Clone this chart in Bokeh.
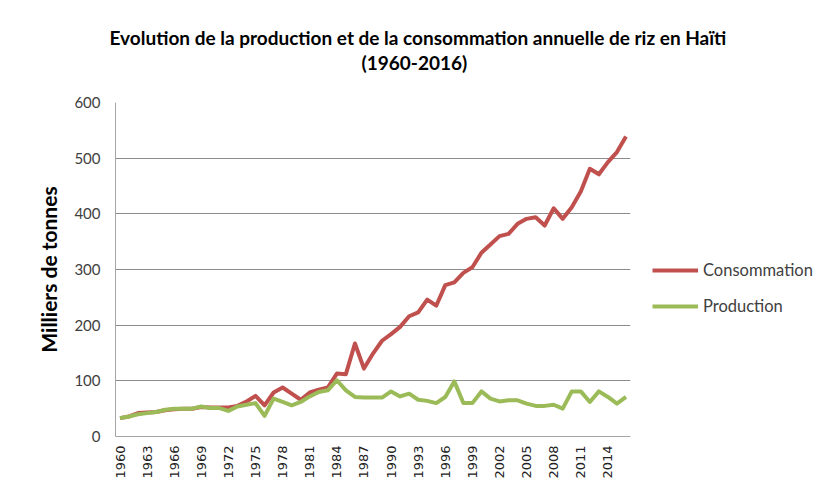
from bokeh.plotting import figure
from bokeh.models import Range1d, FixedTicker, Legend, LegendItem, Title
from bokeh.embed import file_html
from bokeh.resources import INLINE
import math

years = list(range(1960, 2017))
consommation = [
    33, 36, 42, 43, 44, 47, 49, 50, 50, 53,
    52, 52, 52, 55, 63, 73, 56, 79, 88, 77,
    66, 79, 84, 88, 113, 112, 167, 122, 149, 172,
    184, 197, 216, 223, 246, 235, 272, 277, 294, 304,
    330, 345, 360, 364, 382, 391, 394, 379, 410, 391,
    412, 440, 481, 471, 493, 511, 539]
production = [
    33, 36, 40, 42, 44, 48, 50, 50, 50, 54,
    51, 51, 46, 54, 57, 60, 37, 68, 62, 56,
    62, 72, 80, 83, 101, 83, 71, 70, 70, 70,
    81, 72, 77, 66, 64, 60, 71, 99, 60, 60,
    81, 68, 63, 65, 65, 59, 55, 55, 57, 50,
    81, 81, 62, 81, 71, 59, 71]
tick_years = list(range(1960, 2015, 3))
y_ticks = [0, 100, 200, 300, 400, 500, 600]
title_lines = ["Evolution de la production et de la consommation annuelle de riz en Haïti",
               "(1960-2016)"]
series_names = ["Consommation", "Production"]
y_title = "Milliers de tonnes"

p = figure(frame_width=515, frame_height=334, output_backend="svg", toolbar_location=None,
           x_range=Range1d(1959.5, 2016.5), y_range=Range1d(0, 600),
           min_border_left=115, min_border_right=0, min_border_top=102,
           min_border_bottom=57)
p.outline_line_color = None
p.background_fill_color = "white"
p.border_fill_color = "white"

p.xaxis.ticker = FixedTicker(ticks=tick_years)
p.yaxis.ticker = FixedTicker(ticks=y_ticks)
p.xgrid.grid_line_color = None
p.ygrid.grid_line_color = "#8c8c8c"
p.ygrid.grid_line_width = 1

for ax in (p.xaxis, p.yaxis):
    ax.axis_line_color = "#a6a6a6"
    ax.major_tick_line_color = None
    ax.minor_tick_line_color = None
    ax.major_tick_out = 0
    ax.major_tick_in = 0

p.xaxis.major_label_orientation = math.pi / 2
p.xaxis.major_label_text_font = "DejaVu Sans"
p.xaxis.major_label_text_font_size = "13px"
p.xaxis.major_label_text_color = "#222222"
p.xaxis.major_label_standoff = 9

p.yaxis.major_label_text_font = "Lato"
p.yaxis.major_label_text_font_size = "15px"
p.yaxis.major_label_text_color = "#404040"
p.yaxis.major_label_standoff = 15
p.yaxis.axis_label = y_title
p.yaxis.axis_label_text_font = "Lato"
p.yaxis.axis_label_text_font_size = "21px"
p.yaxis.axis_label_text_font_style = "bold"
p.yaxis.axis_label_text_color = "black"
p.yaxis.axis_label_standoff = 10

r1 = p.line(years, consommation, line_color="#c0504d", line_width=4, line_join="round")
r2 = p.line(years, production, line_color="#9bbb59", line_width=4, line_join="round")

legend = Legend(items=[LegendItem(label=series_names[0], renderers=[r1]),
                       LegendItem(label=series_names[1], renderers=[r2])],
                location="left", orientation="vertical",
                title=" ", title_text_font_size="1px", title_standoff=37,
                glyph_width=46, glyph_height=20, label_height=20,
                label_standoff=5, spacing=16,
                padding=0, margin=22, border_line_alpha=0, background_fill_alpha=0,
                label_text_font="Lato", label_text_font_size="16.5px",
                label_text_color="#404040")
p.add_layout(legend, "right")

# spacer between frame and title, then second line, then first line on top
p.add_layout(Title(text=" ", text_font_size="1px", standoff=25), "above")
p.add_layout(Title(text=title_lines[1], align="left", offset=246, standoff=1,
                   text_font="Lato", text_font_size="19px", text_font_style="bold",
                   text_color="black"), "above")
p.add_layout(Title(text=title_lines[0], align="left", offset=-6, standoff=0,
                   text_font="Lato", text_font_size="19px", text_font_style="bold",
                   text_color="black"), "above")

open("out.html", "w").write(file_html(p, INLINE))
